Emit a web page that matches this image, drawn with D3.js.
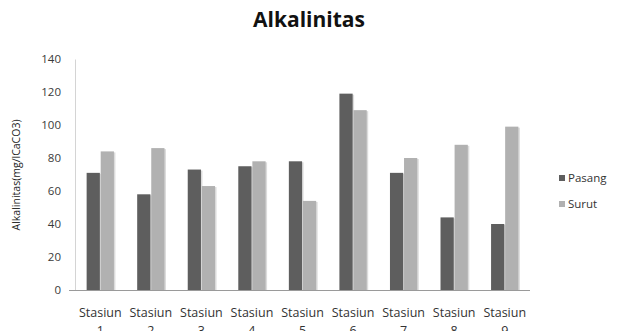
<!DOCTYPE html>
<html>
<head>
<meta charset="utf-8">
<script src="https://cdn.jsdelivr.net/npm/d3@7"></script>
<style>
  html, body { margin: 0; padding: 0; background: #fff; }
  svg { display: block; }
  text { font-family: "Open Sans", "DejaVu Sans", sans-serif; }
</style>
</head>
<body>
<script>
// Alkalinitas per stasiun, saat pasang dan surut
const stations = ["Stasiun 1", "Stasiun 2", "Stasiun 3", "Stasiun 4", "Stasiun 5",
                  "Stasiun 6", "Stasiun 7", "Stasiun 8", "Stasiun 9"];
const seriesNames = ["Pasang", "Surut"];
const pasang = [71, 58, 73, 75, 78, 119, 71, 44, 40];
const surut  = [84, 86, 63, 78, 54, 109, 80, 88, 99];
const yTicks = [0, 20, 40, 60, 80, 100, 120, 140];
const colors = ["#5e5e5e", "#b1b1b1"];

const W = 622, H = 331;
const svg = d3.select("body").append("svg").attr("width", W).attr("height", H);

const x = d3.scaleBand().domain(stations).range([75, 530])
  .paddingInner(0.46).paddingOuter(0.23);
const xs = d3.scaleBand().domain(seriesNames).range([0, x.bandwidth()]).paddingInner(0.06);
const y = d3.scaleLinear().domain([0, 140]).range([290, 59]);

// Title
svg.append("text").attr("x", 309).attr("y", 27).attr("text-anchor", "middle")
  .attr("font-size", 21).attr("font-weight", "bold").attr("fill", "#111")
  .text("Alkalinitas");

// Y axis
const yAxis = svg.append("g").attr("transform", "translate(75,0)")
  .call(d3.axisLeft(y).tickValues(yTicks).tickSize(0).tickPadding(14));
yAxis.select(".domain").attr("stroke", "#d4d4d4");
yAxis.selectAll("text").attr("font-size", 11.5).attr("fill", "#3a3a3a");

// Y axis title
svg.append("text")
  .attr("transform", "translate(20,175) rotate(-90)")
  .attr("text-anchor", "middle").attr("font-size", 10.5).attr("fill", "#222")
  .text("Alkalinitas(mg/lCaCO3)");

// Bars with a soft shadow
const rows = stations.map((s, i) => ({ station: s, values: [pasang[i], surut[i]] }));
const groups = svg.append("g").selectAll("g").data(rows).join("g")
  .attr("transform", d => `translate(${x(d.station)},0)`);

const bars = groups.selectAll("g").data(d => d.values.map((v, j) => ({ key: seriesNames[j], v, j })))
  .join("g");
bars.append("rect")
  .attr("x", d => xs(d.key) + 1.5).attr("y", d => y(d.v) + 1)
  .attr("width", xs.bandwidth()).attr("height", d => y(0) - y(d.v) - 1)
  .attr("fill", "#dcdcdc");
bars.append("rect")
  .attr("x", d => xs(d.key)).attr("y", d => y(d.v))
  .attr("width", xs.bandwidth()).attr("height", d => y(0) - y(d.v))
  .attr("fill", d => colors[d.j]);

// X axis
const xAxis = svg.append("g").attr("transform", "translate(0,290)")
  .call(d3.axisBottom(x).tickSize(0).tickFormat(() => ""));
xAxis.select(".domain").remove();
svg.append("line").attr("x1", 69).attr("x2", 530).attr("y1", 290.5).attr("y2", 290.5)
  .attr("stroke", "#9a9a9a");

xAxis.selectAll(".tick").each(function(d) {
  const t = d3.select(this).append("text").attr("text-anchor", "middle")
    .attr("font-size", 12.5).attr("fill", "#333");
  const parts = d.split(" ");
  t.append("tspan").attr("x", 0).attr("y", 27).text(parts[0]);
  t.append("tspan").attr("x", 0).attr("y", 45).text(parts[1]);
});

// Legend
const legend = svg.append("g").selectAll("g").data(seriesNames).join("g")
  .attr("transform", (d, i) => `translate(559,${175 + i * 26})`);
legend.append("rect").attr("width", 6).attr("height", 6).attr("fill", (d, i) => colors[i]);
legend.append("text").attr("x", 9).attr("y", 3).attr("dy", "0.35em")
  .attr("font-size", 11.5).attr("fill", "#333").text(d => d);
</script>
</body>
</html>
